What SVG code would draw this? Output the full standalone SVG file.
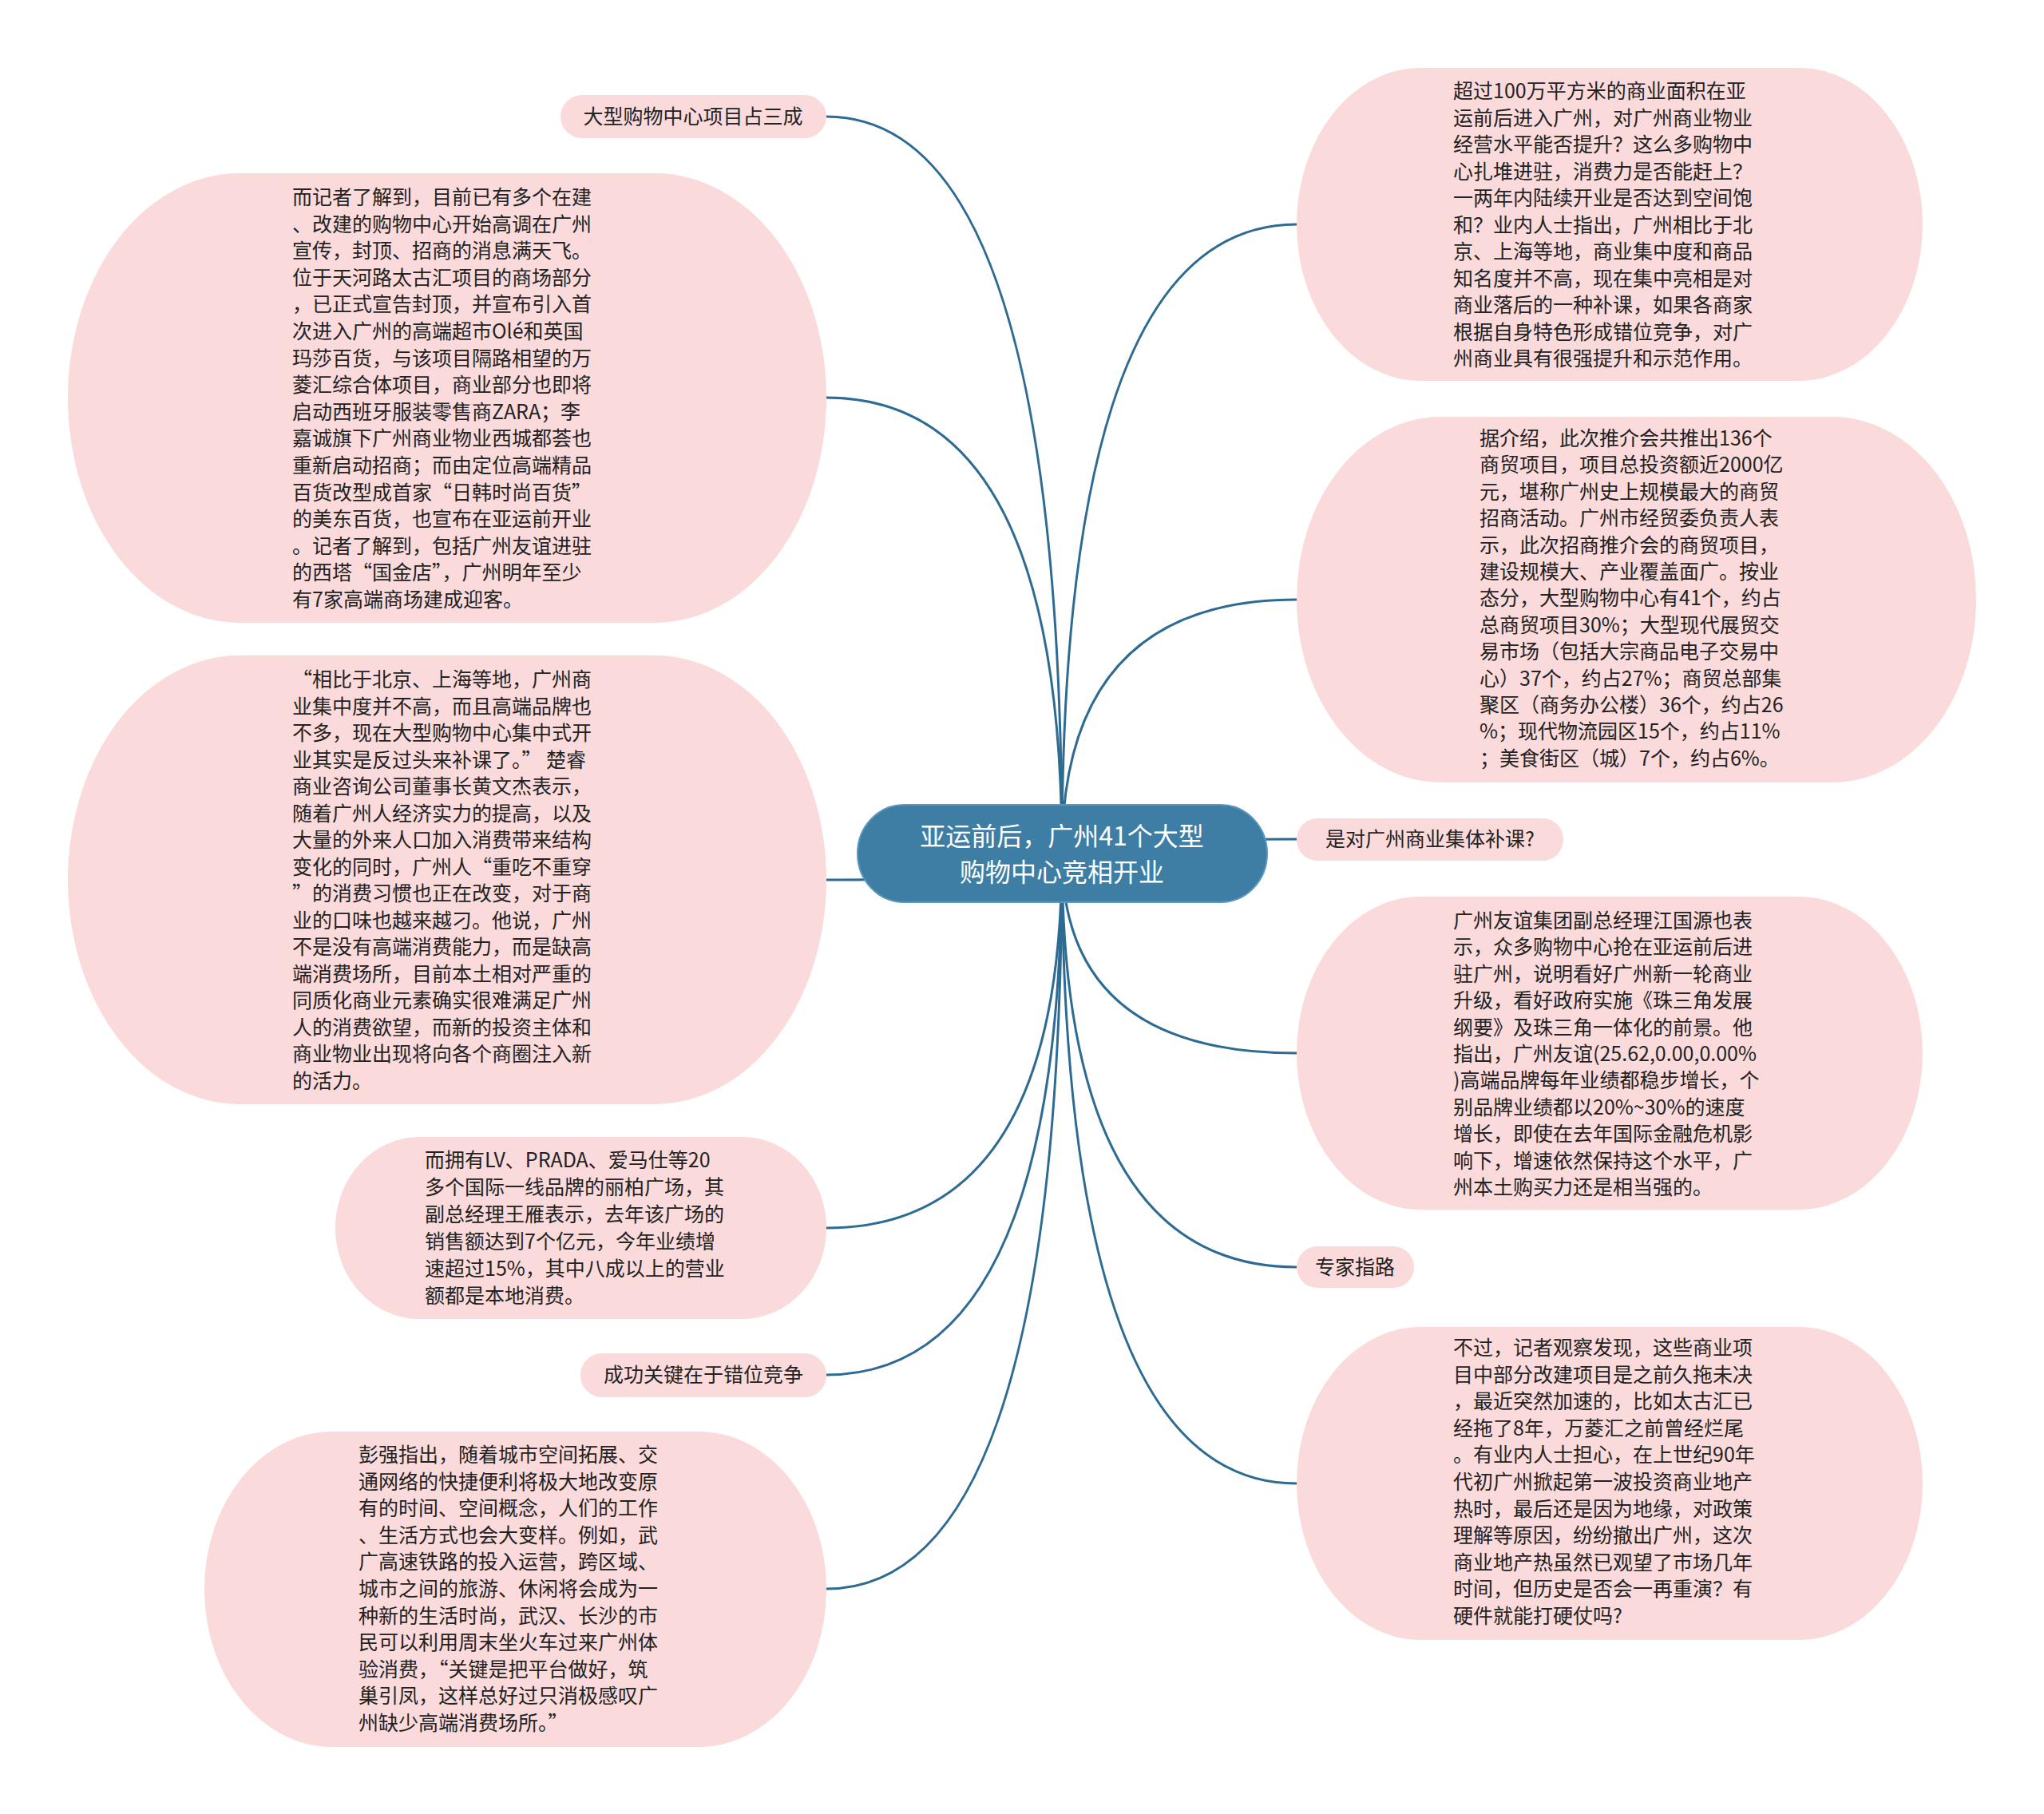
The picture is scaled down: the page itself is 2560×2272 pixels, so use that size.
<svg xmlns="http://www.w3.org/2000/svg" width="2560" height="2272" viewBox="0 0 2560 2272">
<style>
.bg{fill:#fadada}
.edge{fill:none;stroke:#2e6b93;stroke-width:3}
.t{font-family:"Noto Sans CJK SC","Noto Sans",sans-serif;font-size:25px;fill:#222222}
.tc{font-family:"Noto Sans CJK SC","Noto Sans",sans-serif;font-size:32px;fill:#ffffff;text-anchor:middle}
.ts{font-family:"Noto Sans CJK SC","Noto Sans",sans-serif;font-size:25px;fill:#222222;text-anchor:middle}
</style>
<rect width="2560" height="2272" fill="#ffffff"/>
<g id="connectors">
<path class="edge" d="M1330 1069 Q1330 146 1035 146"/>
<path class="edge" d="M1330 1069 Q1330 498 1035 498"/>
<path class="edge" d="M1330 1069 Q1330 1102 1035 1102"/>
<path class="edge" d="M1330 1069 Q1330 1538 1035 1538"/>
<path class="edge" d="M1330 1069 Q1330 1722 1035 1722"/>
<path class="edge" d="M1330 1069 Q1330 1990 1035 1990"/>
<path class="edge" d="M1330 1069 Q1330 281 1624 281"/>
<path class="edge" d="M1330 1069 Q1330 751 1624 751"/>
<path class="edge" d="M1330 1069 Q1330 1051 1624 1051"/>
<path class="edge" d="M1330 1069 Q1330 1319 1624 1319"/>
<path class="edge" d="M1330 1069 Q1330 1587 1624 1587"/>
<path class="edge" d="M1330 1069 Q1330 1858 1624 1858"/>
</g>
<g id="center">
<rect x="1074" y="1008" width="513" height="122" rx="58" ry="61" fill="#3f7ea4" stroke="#5b97bf" stroke-width="2"/>
<text class="tc" x="1330" y="1059">亚运前后，广州41个大型</text>
<text class="tc" x="1330" y="1104">购物中心竞相开业</text>
</g>
<g id="l-small1">
<rect class="bg" x="702" y="119" width="333" height="54" rx="27"/>
<text class="ts" x="868" y="155">大型购物中心项目占三成</text>
</g>
<g id="l1">
<rect class="bg" x="85" y="217" width="950" height="563" rx="215" ry="281"/>
<text class="t" x="366" y="256">
<tspan x="366" dy="0">而记者了解到，目前已有多个在建</tspan>
<tspan x="366" dy="33.6">、改建的购物中心开始高调在广州</tspan>
<tspan x="366" dy="33.6">宣传，封顶、招商的消息满天飞。</tspan>
<tspan x="366" dy="33.6">位于天河路太古汇项目的商场部分</tspan>
<tspan x="366" dy="33.6">，已正式宣告封顶，并宣布引入首</tspan>
<tspan x="366" dy="33.6">次进入广州的高端超市Olé和英国</tspan>
<tspan x="366" dy="33.6">玛莎百货，与该项目隔路相望的万</tspan>
<tspan x="366" dy="33.6">菱汇综合体项目，商业部分也即将</tspan>
<tspan x="366" dy="33.6">启动西班牙服装零售商ZARA；李</tspan>
<tspan x="366" dy="33.6">嘉诚旗下广州商业物业西城都荟也</tspan>
<tspan x="366" dy="33.6">重新启动招商；而由定位高端精品</tspan>
<tspan x="366" dy="33.6">百货改型成首家“日韩时尚百货”</tspan>
<tspan x="366" dy="33.6">的美东百货，也宣布在亚运前开业</tspan>
<tspan x="366" dy="33.6">。记者了解到，包括广州友谊进驻</tspan>
<tspan x="366" dy="33.6">的西塔“国金店”，广州明年至少</tspan>
<tspan x="366" dy="33.6">有7家高端商场建成迎客。</tspan>
</text>
</g>
<g id="l2">
<rect class="bg" x="85" y="821" width="950" height="562" rx="215" ry="281"/>
<text class="t" x="366" y="860">
<tspan x="366" dy="0">“相比于北京、上海等地，广州商</tspan>
<tspan x="366" dy="33.5">业集中度并不高，而且高端品牌也</tspan>
<tspan x="366" dy="33.5">不多，现在大型购物中心集中式开</tspan>
<tspan x="366" dy="33.5">业其实是反过头来补课了。” 楚睿</tspan>
<tspan x="366" dy="33.5">商业咨询公司董事长黄文杰表示，</tspan>
<tspan x="366" dy="33.5">随着广州人经济实力的提高，以及</tspan>
<tspan x="366" dy="33.5">大量的外来人口加入消费带来结构</tspan>
<tspan x="366" dy="33.5">变化的同时，广州人“重吃不重穿</tspan>
<tspan x="366" dy="33.5">”的消费习惯也正在改变，对于商</tspan>
<tspan x="366" dy="33.5">业的口味也越来越刁。他说，广州</tspan>
<tspan x="366" dy="33.5">不是没有高端消费能力，而是缺高</tspan>
<tspan x="366" dy="33.5">端消费场所，目前本土相对严重的</tspan>
<tspan x="366" dy="33.5">同质化商业元素确实很难满足广州</tspan>
<tspan x="366" dy="33.5">人的消费欲望，而新的投资主体和</tspan>
<tspan x="366" dy="33.5">商业物业出现将向各个商圈注入新</tspan>
<tspan x="366" dy="33.5">的活力。</tspan>
</text>
</g>
<g id="l3">
<rect class="bg" x="420" y="1424" width="615" height="228" rx="105" ry="114"/>
<text class="t" x="532" y="1462">
<tspan x="532" dy="0">而拥有LV、PRADA、爱马仕等20</tspan>
<tspan x="532" dy="34">多个国际一线品牌的丽柏广场，其</tspan>
<tspan x="532" dy="34">副总经理王雁表示，去年该广场的</tspan>
<tspan x="532" dy="34">销售额达到7个亿元，今年业绩增</tspan>
<tspan x="532" dy="34">速超过15%，其中八成以上的营业</tspan>
<tspan x="532" dy="34">额都是本地消费。</tspan>
</text>
</g>
<g id="l-small2">
<rect class="bg" x="727" y="1695" width="308" height="55" rx="27"/>
<text class="ts" x="881" y="1731">成功关键在于错位竞争</text>
</g>
<g id="l4">
<rect class="bg" x="256" y="1793" width="779" height="395" rx="160" ry="197"/>
<text class="t" x="449" y="1831">
<tspan x="449" dy="0">彭强指出，随着城市空间拓展、交</tspan>
<tspan x="449" dy="33.6">通网络的快捷便利将极大地改变原</tspan>
<tspan x="449" dy="33.6">有的时间、空间概念，人们的工作</tspan>
<tspan x="449" dy="33.6">、生活方式也会大变样。例如，武</tspan>
<tspan x="449" dy="33.6">广高速铁路的投入运营，跨区域、</tspan>
<tspan x="449" dy="33.6">城市之间的旅游、休闲将会成为一</tspan>
<tspan x="449" dy="33.6">种新的生活时尚，武汉、长沙的市</tspan>
<tspan x="449" dy="33.6">民可以利用周末坐火车过来广州体</tspan>
<tspan x="449" dy="33.6">验消费，“关键是把平台做好，筑</tspan>
<tspan x="449" dy="33.6">巢引凤，这样总好过只消极感叹广</tspan>
<tspan x="449" dy="33.6">州缺少高端消费场所。”</tspan>
</text>
</g>
<g id="r1">
<rect class="bg" x="1624" y="85" width="784" height="392" rx="155" ry="196"/>
<text class="t" x="1820" y="123">
<tspan x="1820" dy="0">超过100万平方米的商业面积在亚</tspan>
<tspan x="1820" dy="33.5">运前后进入广州，对广州商业物业</tspan>
<tspan x="1820" dy="33.5">经营水平能否提升？这么多购物中</tspan>
<tspan x="1820" dy="33.5">心扎堆进驻，消费力是否能赶上？</tspan>
<tspan x="1820" dy="33.5">一两年内陆续开业是否达到空间饱</tspan>
<tspan x="1820" dy="33.5">和？业内人士指出，广州相比于北</tspan>
<tspan x="1820" dy="33.5">京、上海等地，商业集中度和商品</tspan>
<tspan x="1820" dy="33.5">知名度并不高，现在集中亮相是对</tspan>
<tspan x="1820" dy="33.5">商业落后的一种补课，如果各商家</tspan>
<tspan x="1820" dy="33.5">根据自身特色形成错位竞争，对广</tspan>
<tspan x="1820" dy="33.5">州商业具有很强提升和示范作用。</tspan>
</text>
</g>
<g id="r2">
<rect class="bg" x="1624" y="522" width="851" height="458" rx="180" ry="229"/>
<text class="t" x="1853" y="558">
<tspan x="1853" dy="0">据介绍，此次推介会共推出136个</tspan>
<tspan x="1853" dy="33.4">商贸项目，项目总投资额近2000亿</tspan>
<tspan x="1853" dy="33.4">元，堪称广州史上规模最大的商贸</tspan>
<tspan x="1853" dy="33.4">招商活动。广州市经贸委负责人表</tspan>
<tspan x="1853" dy="33.4">示，此次招商推介会的商贸项目，</tspan>
<tspan x="1853" dy="33.4">建设规模大、产业覆盖面广。按业</tspan>
<tspan x="1853" dy="33.4">态分，大型购物中心有41个，约占</tspan>
<tspan x="1853" dy="33.4">总商贸项目30%；大型现代展贸交</tspan>
<tspan x="1853" dy="33.4">易市场（包括大宗商品电子交易中</tspan>
<tspan x="1853" dy="33.4">心）37个，约占27%；商贸总部集</tspan>
<tspan x="1853" dy="33.4">聚区（商务办公楼）36个，约占26</tspan>
<tspan x="1853" dy="33.4">%；现代物流园区15个，约占11%</tspan>
<tspan x="1853" dy="33.4">；美食街区（城）7个，约占6%。</tspan>
</text>
</g>
<g id="r-small1">
<rect class="bg" x="1624" y="1025" width="334" height="53" rx="26"/>
<text class="ts" x="1791" y="1060">是对广州商业集体补课?</text>
</g>
<g id="r3">
<rect class="bg" x="1624" y="1123" width="784" height="392" rx="155" ry="196"/>
<text class="t" x="1820" y="1162">
<tspan x="1820" dy="0">广州友谊集团副总经理江国源也表</tspan>
<tspan x="1820" dy="33.4">示，众多购物中心抢在亚运前后进</tspan>
<tspan x="1820" dy="33.4">驻广州，说明看好广州新一轮商业</tspan>
<tspan x="1820" dy="33.4">升级，看好政府实施《珠三角发展</tspan>
<tspan x="1820" dy="33.4">纲要》及珠三角一体化的前景。他</tspan>
<tspan x="1820" dy="33.4">指出，广州友谊(25.62,0.00,0.00%</tspan>
<tspan x="1820" dy="33.4">)高端品牌每年业绩都稳步增长，个</tspan>
<tspan x="1820" dy="33.4">别品牌业绩都以20%~30%的速度</tspan>
<tspan x="1820" dy="33.4">增长，即使在去年国际金融危机影</tspan>
<tspan x="1820" dy="33.4">响下，增速依然保持这个水平，广</tspan>
<tspan x="1820" dy="33.4">州本土购买力还是相当强的。</tspan>
</text>
</g>
<g id="r-small2">
<rect class="bg" x="1624" y="1561" width="147" height="52" rx="26"/>
<text class="ts" x="1697" y="1596">专家指路</text>
</g>
<g id="r4">
<rect class="bg" x="1624" y="1662" width="784" height="392" rx="155" ry="196"/>
<text class="t" x="1820" y="1697">
<tspan x="1820" dy="0">不过，记者观察发现，这些商业项</tspan>
<tspan x="1820" dy="33.6">目中部分改建项目是之前久拖未决</tspan>
<tspan x="1820" dy="33.6">，最近突然加速的，比如太古汇已</tspan>
<tspan x="1820" dy="33.6">经拖了8年，万菱汇之前曾经烂尾</tspan>
<tspan x="1820" dy="33.6">。有业内人士担心，在上世纪90年</tspan>
<tspan x="1820" dy="33.6">代初广州掀起第一波投资商业地产</tspan>
<tspan x="1820" dy="33.6">热时，最后还是因为地缘，对政策</tspan>
<tspan x="1820" dy="33.6">理解等原因，纷纷撤出广州，这次</tspan>
<tspan x="1820" dy="33.6">商业地产热虽然已观望了市场几年</tspan>
<tspan x="1820" dy="33.6">时间，但历史是否会一再重演？有</tspan>
<tspan x="1820" dy="33.6">硬件就能打硬仗吗?</tspan>
</text>
</g>
</svg>
